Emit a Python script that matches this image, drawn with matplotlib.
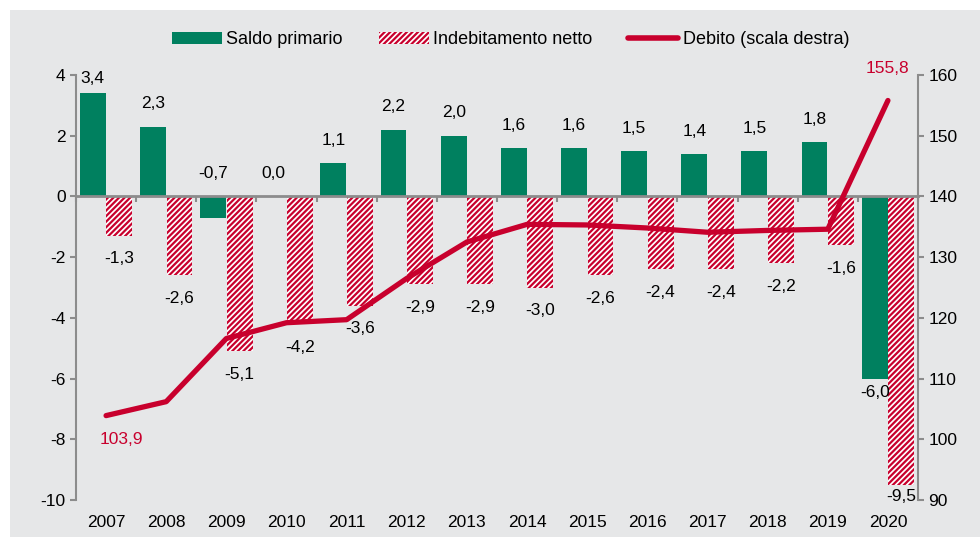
import numpy as np
import matplotlib
matplotlib.use("Agg")
import matplotlib.pyplot as plt
from matplotlib.patches import Rectangle, Patch
from matplotlib.lines import Line2D

plt.rcParams['font.family'] = ['Liberation Sans', 'DejaVu Sans']
plt.rcParams['axes.unicode_minus'] = False
plt.rcParams['hatch.linewidth'] = 1.6

anni = ["2007", "2008", "2009", "2010", "2011", "2012", "2013",
        "2014", "2015", "2016", "2017", "2018", "2019", "2020"]
saldo_primario = [3.4, 2.3, -0.7, 0.0, 1.1, 2.2, 2.0, 1.6, 1.6, 1.5, 1.4, 1.5, 1.8, -6.0]
indebitamento = [-1.3, -2.6, -5.1, -4.2, -3.6, -2.9, -2.9, -3.0, -2.6, -2.4, -2.4, -2.2, -1.6, -9.5]
debito = [103.9, 106.2, 116.6, 119.2, 119.7, 126.5, 132.5, 135.4, 135.3, 134.8, 134.1, 134.4, 134.6, 155.8]

verde = '#00805F'
rosso = '#C8002D'
grigio = '#8C8C8C'
sfondo = '#E6E7E8'
fs = 12.5
tratteggio = '/' * 6

def virgola(v):
    return f"{v:.1f}".replace('.', ',')

fig = plt.figure(figsize=(9.8, 5.45), dpi=100)
fig.patches.append(Rectangle((10 / 980, 1 - 537 / 545), 1 - 10 / 980, 527 / 545,
                             transform=fig.transFigure, facecolor=sfondo,
                             edgecolor='none', zorder=-10))

ax = fig.add_axes([76 / 980, 1 - 500 / 545, (918 - 76) / 980, 425 / 545])
ax.patch.set_visible(False)
x = np.arange(len(anni))
w = 0.43

ax.bar(x - 0.22, saldo_primario, width=w, color=verde, zorder=2)
ax.bar(x + 0.22, indebitamento, width=w, facecolor='white', edgecolor=rosso,
       linewidth=0, hatch=tratteggio, zorder=2)

ax.set_xlim(-0.5, len(anni) - 0.5)
ax.set_ylim(-10, 4)
ax.set_yticks(range(-10, 5, 2))
ax.tick_params(axis='y', colors=grigio, labelcolor='black', labelsize=fs, length=4, width=1.5)

# asse x sullo zero, etichette in basso
ax.spines['bottom'].set_position(('data', 0))
ax.spines['bottom'].set_color(grigio)
ax.spines['bottom'].set_linewidth(2)
ax.set_xticks(np.arange(-0.5, len(anni), 1))
ax.set_xticklabels([])
ax.tick_params(axis='x', colors=grigio, length=4, width=1.5)
for i, a in enumerate(anni):
    ax.text(i, -10.75, a, ha='center', va='center', fontsize=fs)
for s in ['top', 'right']:
    ax.spines[s].set_visible(False)
ax.spines['left'].set_color(grigio)
ax.spines['left'].set_linewidth(1.5)

for i, v in enumerate(saldo_primario):
    if v > -1:
        y = min(max(v, 0) + 0.75, 3.9)
    else:
        y = v - 0.45
    ax.text(i - 0.22, y, virgola(v), ha='center', va='center', fontsize=fs)
for i, v in enumerate(indebitamento):
    y = max(v - 0.76, -9.9)
    ax.text(i + 0.22, y, virgola(v), ha='center', va='center', fontsize=fs)

ax2 = ax.twinx()
ax2.set_ylim(90, 160)
ax2.set_yticks(range(90, 161, 10))
ax2.plot(x, debito, color=rosso, linewidth=3.8, solid_capstyle='round', zorder=3)
ax2.tick_params(axis='y', colors=grigio, labelcolor='black', labelsize=fs, length=4, width=1.5)
for s in ['top', 'left', 'bottom']:
    ax2.spines[s].set_visible(False)
ax2.spines['right'].set_color(grigio)
ax2.spines['right'].set_linewidth(1.5)
ax2.text(0.25, debito[0] - 3.9, virgola(debito[0]), color=rosso, ha='center',
         va='center', fontsize=fs)
ax2.text(len(anni) - 1, debito[-1] + 5.3, virgola(debito[-1]), color=rosso,
         ha='center', va='center', fontsize=fs)

handles = [Patch(facecolor=verde, edgecolor='none'),
           Patch(facecolor='white', edgecolor=rosso, linewidth=0, hatch=tratteggio),
           Line2D([], [], color=rosso, linewidth=4, solid_capstyle='round')]
fig.legend(handles, ['Saldo primario', 'Indebitamento netto', 'Debito (scala destra)'],
           loc='center', bbox_to_anchor=(0.521, 1 - 40 / 545), ncol=3, frameon=False,
           fontsize=13, handlelength=2.75, handleheight=0.6, handletextpad=0.25,
           columnspacing=2.0)

fig.savefig('out.png', dpi=100)
